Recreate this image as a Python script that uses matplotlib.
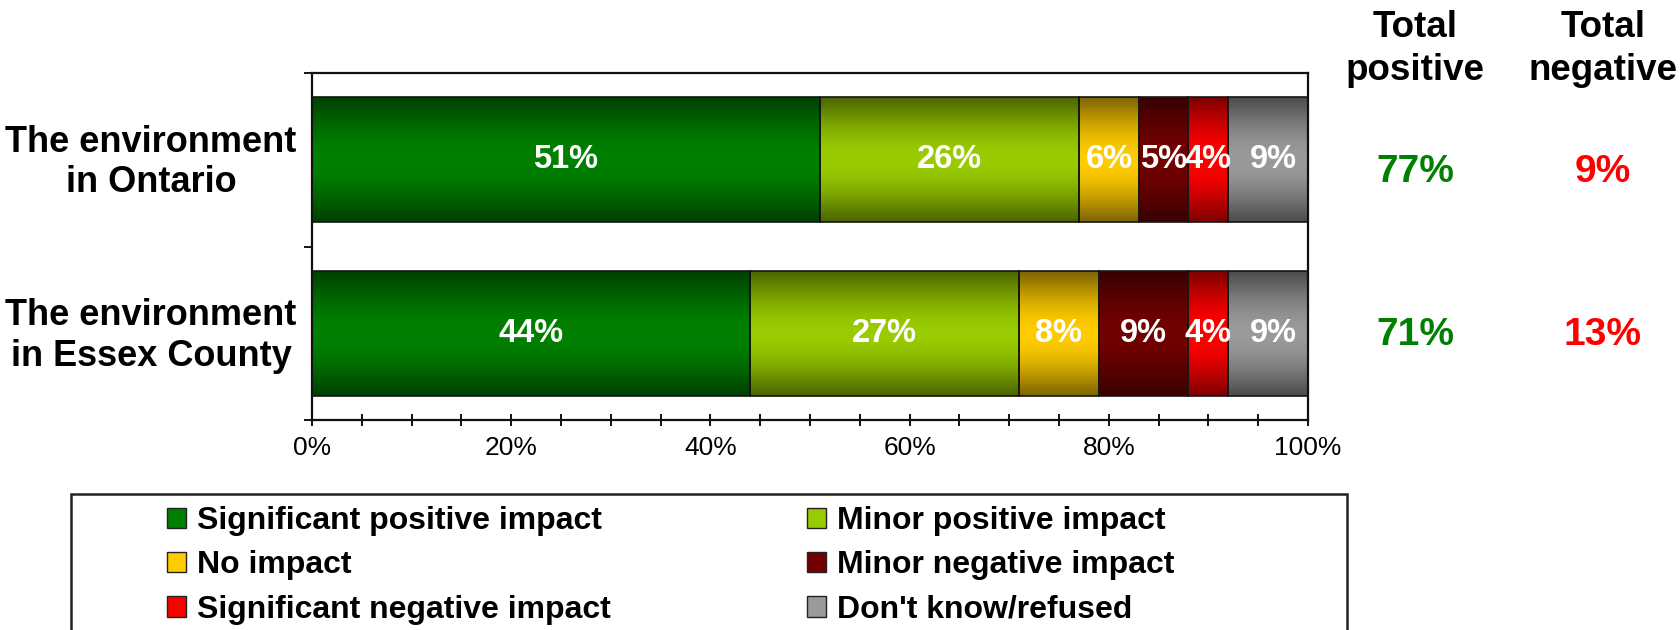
import numpy as np
import matplotlib
matplotlib.use("Agg")
import matplotlib.pyplot as plt
from matplotlib.patches import Patch, Rectangle
from matplotlib.ticker import MultipleLocator, FixedLocator
import matplotlib.colors as mcolors
import matplotlib.transforms as mtransforms

# ---- data ----
categories = ["The environment\nin Ontario", "The environment\nin Essex County"]
series_names = ["Significant positive impact", "Minor positive impact", "No impact",
                "Minor negative impact", "Significant negative impact", "Don't know/refused"]
sig_pos = [51, 44]
minor_pos = [26, 27]
no_impact = [6, 8]
minor_neg = [5, 9]
sig_neg = [4, 4]
dont_know = [9, 9]
total_positive = [77, 71]
total_negative = [9, 13]
xticks = [0, 20, 40, 60, 80, 100]
xtick_labels = ["0%", "20%", "40%", "60%", "80%", "100%"]

series = [sig_pos, minor_pos, no_impact, minor_neg, sig_neg, dont_know]
colors = ["#008000", "#99CC00", "#FFCC00", "#720000", "#FF0000", "#9A9A9A"]

plt.rcParams['font.family'] = ['Liberation Sans', 'DejaVu Sans']

fig = plt.figure(figsize=(16.81, 6.30), dpi=100)
fig.patch.set_facecolor("white")
ax = fig.add_axes([312/1681, 1 - 420/630, (1308 - 312)/1681, (420 - 73)/630])

y = np.arange(len(categories))
bar_h = 0.72
left = np.zeros(len(categories))

def gradient(color, n=100):
    c = np.array(mcolors.to_rgb(color))
    t = np.linspace(0, 1, n)
    f = 0.5 + 0.5 * np.sin(np.pi * t) ** 1.1
    return (f[:, None] * c[None, :])[:, None, :]

for vals, col in zip(series, colors):
    bars = ax.barh(y, vals, left=left, height=bar_h, color=col,
                   edgecolor="#151515", linewidth=1.2, zorder=3)
    grad = gradient(col)
    for rect in bars:
        x0, y0 = rect.get_x(), rect.get_y()
        w, h = rect.get_width(), rect.get_height()
        im = ax.imshow(grad, extent=(x0, x0 + w, y0 + h, y0), origin="upper",
                       aspect="auto", interpolation="bilinear", zorder=2)
        im.set_clip_path(rect)
        im.set_clip_box(ax.bbox)
        rect.set_facecolor("none")
    for yi, (l, v) in enumerate(zip(left, vals)):
        ax.text(l + v / 2, yi, f"{v}%", ha="center", va="center", color="white",
                fontsize=23.5, fontweight="bold", zorder=5)
    left = left + np.array(vals)

ax.set_xlim(0, 100)
ax.set_ylim(len(categories) - 0.5, -0.5)

ax.set_xticks(xticks)
ax.set_xticklabels(xtick_labels, fontsize=19)
ax.xaxis.set_minor_locator(MultipleLocator(5))
ax.tick_params(axis="x", which="both", direction="inout", length=9, width=1.3, pad=7)

ax.set_yticks(y)
ax.set_yticklabels(categories, fontsize=26, fontweight="bold", ma="center")
ax.tick_params(axis="y", which="major", length=0, pad=11)
ax.yaxis.set_minor_locator(FixedLocator([-0.5, 0.5, 1.5]))
ax.tick_params(axis="y", which="minor", direction="out", length=6, width=1.3)
lift = mtransforms.ScaledTranslation(0, 4/100, fig.dpi_scale_trans)
for lbl in ax.get_yticklabels():
    lbl.set_linespacing(1.2)
    lbl.set_transform(lbl.get_transform() + lift)

for sp in ax.spines.values():
    sp.set_linewidth(1.6)
    sp.set_color("#111111")

# ---- totals ----
trans = mtransforms.blended_transform_factory(fig.transFigure, ax.transData)
px, nx = 1415/1681, 1603/1681
total_dy = [0.07, 0.01]
fig.text(px, 1 - 49/630, "Total\npositive", ha="center", va="center",
         fontsize=26.5, fontweight="bold", linespacing=1.3)
fig.text(nx, 1 - 49/630, "Total\nnegative", ha="center", va="center",
         fontsize=26.5, fontweight="bold", linespacing=1.3)
for yi, (tp, tn) in enumerate(zip(total_positive, total_negative)):
    ax.text(px, yi + total_dy[yi], f"{tp}%", transform=trans, ha="center", va="center",
            fontsize=28, fontweight="bold", color="#008000", clip_on=False)
    ax.text(nx, yi + total_dy[yi], f"{tn}%", transform=trans, ha="center", va="center",
            fontsize=28, fontweight="bold", color="#FF0000", clip_on=False)

# ---- legend ----
fig.patches.append(Rectangle((71/1681, -0.05), (1347 - 71)/1681, 0.05 + 1 - 494/630,
                             transform=fig.transFigure, facecolor="white",
                             edgecolor="#222222", linewidth=1.8, zorder=0))

handles = [Patch(facecolor=c, edgecolor="#222222", linewidth=1.0) for c in colors]
col1 = [0, 2, 4]
col2 = [1, 3, 5]
common = dict(frameon=False, handlelength=0.6, handleheight=0.6,
              handletextpad=0.34, labelspacing=0.45, borderpad=0, borderaxespad=0,
              loc="upper left", bbox_transform=fig.transFigure,
              prop={"weight": "bold", "size": 23})
fig.legend([handles[i] for i in col1], [series_names[i] for i in col1],
           bbox_to_anchor=(167/1681, 1 - 506/630), **common)
fig.legend([handles[i] for i in col2], [series_names[i] for i in col2],
           bbox_to_anchor=(807/1681, 1 - 506/630), **common)

fig.savefig("out.png", dpi=100, facecolor="white")
